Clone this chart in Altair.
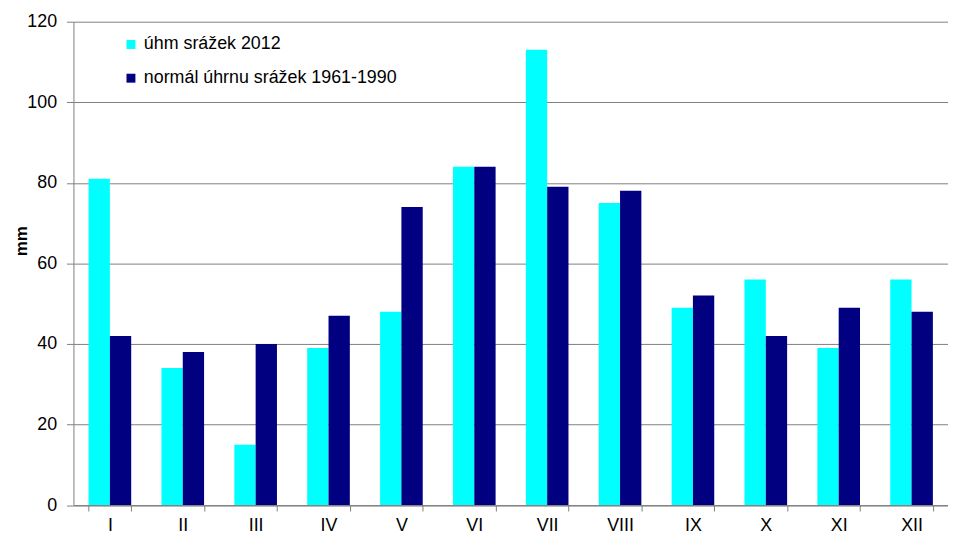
import altair as alt
import pandas as pd

months = ["I", "II", "III", "IV", "V", "VI", "VII", "VIII", "IX", "X", "XI", "XII"]
series_names = ["úhm srážek 2012", "normál úhrnu srážek 1961-1990"]
rain_2012 = [81, 34, 15, 39, 48, 84, 113, 75, 49, 56, 39, 56]
normal_1961_1990 = [42, 38, 40, 47, 74, 84, 79, 78, 52, 42, 49, 48]
colors = ["#00FFFF", "#000080"]

rows = []
for m, a, b in zip(months, rain_2012, normal_1961_1990):
    rows.append({"month": m, "series": series_names[0], "value": a})
    rows.append({"month": m, "series": series_names[1], "value": b})
df = pd.DataFrame(rows)

FONT = "Liberation Sans"

chart = alt.Chart(df).mark_bar().encode(
    x=alt.X("month:N", sort=months,
            scale=alt.Scale(paddingInner=0.415, paddingOuter=0.2075),
            axis=alt.Axis(title=None, labelAngle=0, tickBand="extent",
                          labelFontSize=18, labelFont=FONT, labelColor="#000000",
                          labelPadding=6, tickSize=6, tickColor="#808080",
                          domainColor="#808080", grid=False)),
    xOffset=alt.XOffset("series:N", sort=series_names,
                        scale=alt.Scale(paddingInner=0, paddingOuter=0)),
    y=alt.Y("value:Q", scale=alt.Scale(domain=[0, 120], nice=False),
            axis=alt.Axis(title="mm", values=list(range(0, 121, 20)),
                          titleFont=FONT, titleFontSize=17, titleFontWeight="bold",
                          titleColor="#000000", titleAngle=270,
                          titleX=-43, titleY=221,
                          labelFontSize=18, labelFont=FONT, labelColor="#000000",
                          labelPadding=10, tickSize=7, tickColor="#808080",
                          domainColor="#808080", gridColor="#808080",
                          gridOpacity=1, gridWidth=1)),
    color=alt.Color("series:N", sort=series_names,
                    scale=alt.Scale(domain=series_names, range=colors),
                    legend=alt.Legend(title=None, orient="none", legendX=49, legendY=14,
                                      symbolType="square", symbolSize=81,
                                      symbolStrokeWidth=0, labelFont=FONT,
                                      labelFontSize=18, labelColor="#000000",
                                      labelOffset=4, rowPadding=16, labelLimit=0)),
).properties(
    width=882, height=487.5,
    autosize=alt.AutoSizeParams(type="none"),
    padding={"left": 66, "top": 11.5, "right": 0, "bottom": 40},
).configure_view(stroke=None).configure_axis(domainWidth=1, tickWidth=1)

chart.save("out.html", embed_options={"renderer": "svg", "actions": False})
